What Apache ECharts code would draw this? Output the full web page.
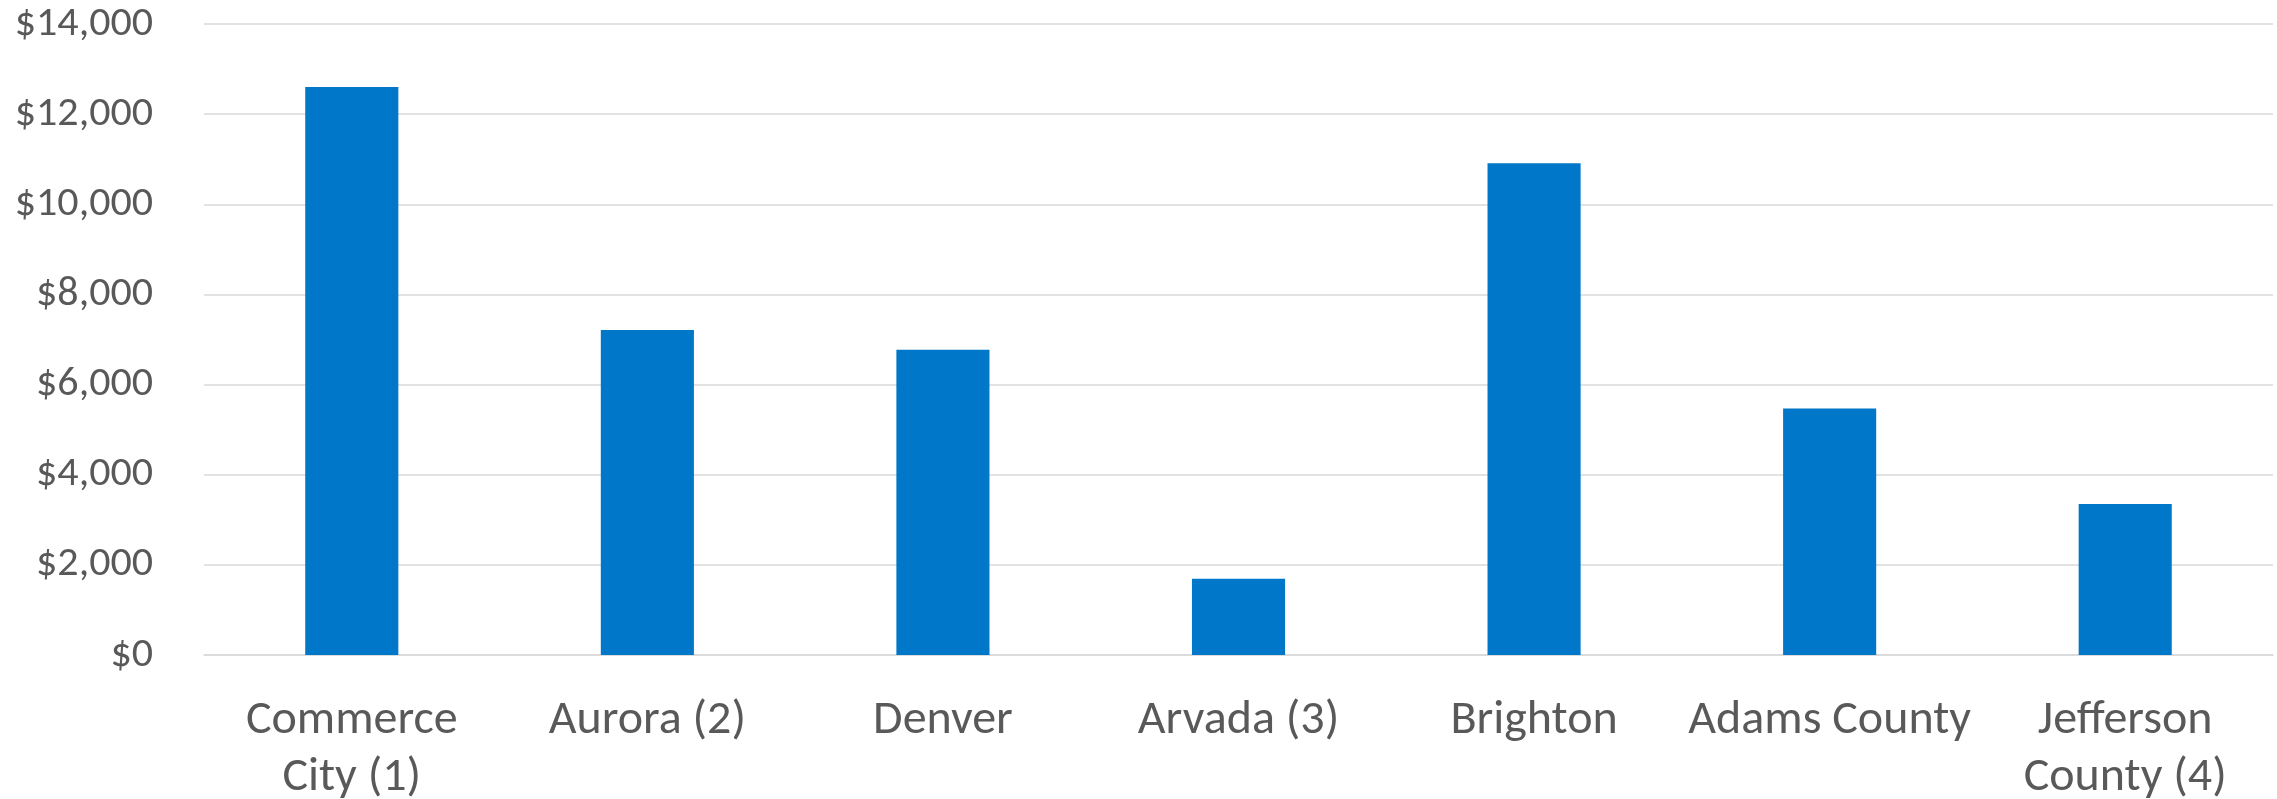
<!DOCTYPE html>
<html>
<head>
<meta charset="utf-8">
<script src="https://cdn.jsdelivr.net/npm/echarts@6/dist/echarts.min.js"></script>
<style>
  html, body { margin: 0; padding: 0; background: #ffffff; }
  #chart { width: 2277px; height: 799px; }
</style>
</head>
<body>
<div id="chart"></div>
<script>
// Spending by jurisdiction
const categories = ['Commerce\nCity (1)', 'Aurora (2)', 'Denver', 'Arvada (3)', 'Brighton', 'Adams County', 'Jefferson\nCounty (4)'];
const values = [12600, 7210, 6770, 1690, 10910, 5470, 3350];
const yTicks = [0, 2000, 4000, 6000, 8000, 10000, 12000, 14000];

const fontFamily = 'Carlito, Calibri, Lato, sans-serif';
const textColor = '#595959';

const chart = echarts.init(document.getElementById('chart'), null, { renderer: 'canvas' });
chart.setOption({
  animation: false,
  backgroundColor: '#ffffff',
  grid: { left: 204, right: 4, top: 24, bottom: 144, containLabel: false, outerBoundsMode: 'none' },
  xAxis: {
    type: 'category',
    data: categories,
    axisLine: { show: true, lineStyle: { color: '#d9d9d9', width: 1.5 } },
    axisTick: { show: false },
    axisLabel: {
      color: textColor,
      fontFamily: fontFamily,
      fontSize: 48,
      lineHeight: 57,
      margin: 37,
      interval: 0
    }
  },
  yAxis: {
    type: 'value',
    min: yTicks[0],
    max: yTicks[yTicks.length - 1],
    interval: yTicks[1] - yTicks[0],
    axisLine: { show: false },
    axisTick: { show: false },
    splitLine: { show: true, lineStyle: { color: '#d9d9d9', width: 1.5 } },
    axisLabel: {
      color: textColor,
      fontFamily: fontFamily,
      fontSize: 42,
      margin: 51,
      formatter: v => '$' + v.toLocaleString('en-US')
    }
  },
  series: [{
    type: 'bar',
    data: values,
    barWidth: '31.5%',
    itemStyle: { color: '#0077c8' }
  }]
});
</script>
</body>
</html>
